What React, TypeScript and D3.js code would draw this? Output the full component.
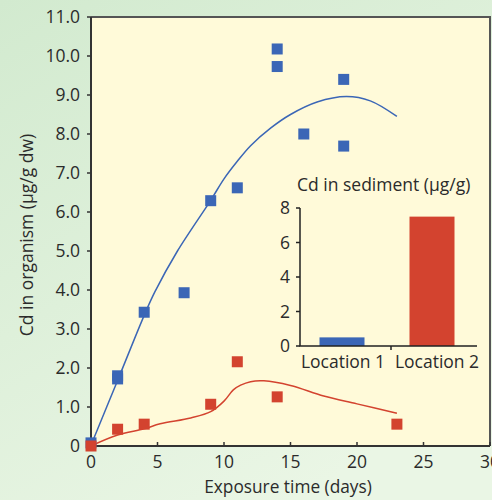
import React from "react";
import * as d3 from "d3";

const blueX = [0, 2, 2, 4, 7, 9, 11, 14, 14, 16, 19, 19];
const blueY = [0.08, 1.72, 1.8, 3.43, 3.93, 6.29, 6.62, 10.18, 9.73, 8.0, 9.4, 7.69];
const redX = [0, 2, 4, 9, 11, 14, 23];
const redY = [0.0, 0.43, 0.56, 1.07, 2.16, 1.26, 0.56];

const blueFitX = [0, 2, 4, 4.8, 6.5, 9, 10, 11, 12, 13.5, 15, 17, 19.2, 21, 23];
const blueFitY = [0.02, 1.68, 3.35, 3.95, 5.0, 6.3, 6.85, 7.3, 7.7, 8.15, 8.5, 8.82, 8.96, 8.85, 8.45];
const redFitX = [0, 2, 4, 5.2, 7.5, 9, 10, 10.7, 11.25, 12, 13, 15, 17.5, 20, 23];
const redFitY = [0, 0.28, 0.44, 0.57, 0.72, 0.88, 1.15, 1.44, 1.56, 1.65, 1.67, 1.55, 1.28, 1.08, 0.84];

const xTicks = [0, 5, 10, 15, 20, 25, 30];
const yTicks = [0, 1, 2, 3, 4, 5, 6, 7, 8, 9, 10, 11];

const insetCats = ["Location 1", "Location 2"];
const insetVals = [0.5, 7.5];
const insetTicks = [0, 2, 4, 6, 8];

const BLUE = "#3b66b6";
const RED = "#d3432f";
const FONT = "'Open Sans', sans-serif";
const TEXT = "#2b2b2b";

export default function App() {
  const W = 492, H = 500;
  const x = d3.scaleLinear().domain([0, 30]).range([91, 490]);
  const y = d3.scaleLinear().domain([0, 11]).range([446, 17]);

  const line = d3
    .line<[number, number]>()
    .x((d) => x(d[0]))
    .y((d) => y(d[1]))
    .curve(d3.curveCatmullRom.alpha(0.5));

  const bluePath = line(blueFitX.map((v, i) => [v, blueFitY[i]]) as [number, number][]) || "";
  const redPath = line(redFitX.map((v, i) => [v, redFitY[i]]) as [number, number][]) || "";

  const ix = d3.scaleBand().domain(insetCats).range([297, 477]).paddingInner(0.5).paddingOuter(0.25);
  const iy = d3.scaleLinear().domain([0, 8]).range([346, 208]);
  const S = 11;

  return (
    <svg
      width={W}
      height={H}
      style={{ position: "absolute", left: 0, top: 0, display: "block" }}
      fontFamily={FONT}
    >
      <defs>
        <linearGradient id="bg" x1="0" y1="0" x2="0.6" y2="1">
          <stop offset="0" stopColor="#d2eacf" />
          <stop offset="1" stopColor="#eaf6e5" />
        </linearGradient>
      </defs>
      <rect x={0} y={0} width={W} height={H} fill="url(#bg)" />
      <rect x={x(0)} y={y(11)} width={x(30) - x(0)} height={y(0) - y(11)} fill="#fffad9" />
      <path d={`M${x(0)},${y(11)}H${x(30)}V${y(0)}`} fill="none" stroke="#555" strokeWidth={2} />
      <path d={`M${x(0)},${y(11)}V${y(0)}H${x(30)}`} fill="none" stroke="#333" strokeWidth={2} />
      {yTicks.map((t) => (
        <g key={"y" + t}>
          <line x1={x(0) - 4} x2={x(0)} y1={y(t)} y2={y(t)} stroke="#333" strokeWidth={1.5} />
          <text x={80} y={y(t)} dy="0.35em" textAnchor="end" fontSize={17.5} fill={TEXT}>
            {t === 0 ? "0" : t.toFixed(1)}
          </text>
        </g>
      ))}
      {xTicks.map((t) => (
        <g key={"x" + t}>
          <line x1={x(t)} x2={x(t)} y1={y(0)} y2={y(0) - 4} stroke="#333" strokeWidth={1.5} />
          <text x={x(t)} y={462} dy="0.35em" textAnchor="middle" fontSize={17.5} fill={TEXT}>
            {t}
          </text>
        </g>
      ))}
      <text x={288} y={487} dy="0.35em" textAnchor="middle" fontSize={17.3} fill={TEXT}>
        Exposure time (days)
      </text>
      <text
        transform={`translate(27,235) rotate(-90)`}
        dy="0.35em"
        textAnchor="middle"
        fontSize={17.5}
        fill={TEXT}
      >
        Cd in organism (µg/g dw)
      </text>

      <path d={bluePath} fill="none" stroke={BLUE} strokeWidth={1.5} />
      <path d={redPath} fill="none" stroke={RED} strokeWidth={1.5} />

      {blueX.map((v, i) => (
        <rect key={"b" + i} x={x(v) - S / 2} y={y(blueY[i]) - S / 2} width={S} height={S} fill={BLUE} />
      ))}
      {redX.map((v, i) => (
        <rect key={"r" + i} x={x(v) - S / 2} y={y(redY[i]) - S / 2} width={S} height={S} fill={RED} />
      ))}

      <text x={297} y={185} dy="0.35em" textAnchor="start" fontSize={17.5} fill={TEXT}>
        Cd in sediment (µg/g)
      </text>
      {insetCats.map((c, i) => (
        <rect
          key={c}
          x={ix(c)!}
          y={iy(insetVals[i])}
          width={ix.bandwidth()}
          height={iy(0) - iy(insetVals[i])}
          fill={i === 0 ? BLUE : RED}
        />
      ))}
      <path d={`M300,${iy(8)}V${iy(0)}H477`} fill="none" stroke="#222" strokeWidth={1.5} />
      {insetTicks.map((t) => (
        <g key={"it" + t}>
          <line x1={296} x2={300} y1={iy(t)} y2={iy(t)} stroke="#222" strokeWidth={1.5} />
          <text x={290} y={iy(t)} dy="0.35em" textAnchor="end" fontSize={17.5} fill={TEXT}>
            {t}
          </text>
        </g>
      ))}
      <line x1={391} x2={391} y1={iy(0)} y2={iy(0) + 4} stroke="#222" strokeWidth={1.5} />
      {insetCats.map((c) => (
        <text
          key={"l" + c}
          x={ix(c)! + ix.bandwidth() / 2 + (c === "Location 2" ? 5 : 1)}
          y={362}
          dy="0.35em"
          textAnchor="middle"
          fontSize={17.5}
          fill={TEXT}
        >
          {c}
        </text>
      ))}
    </svg>
  );
}
